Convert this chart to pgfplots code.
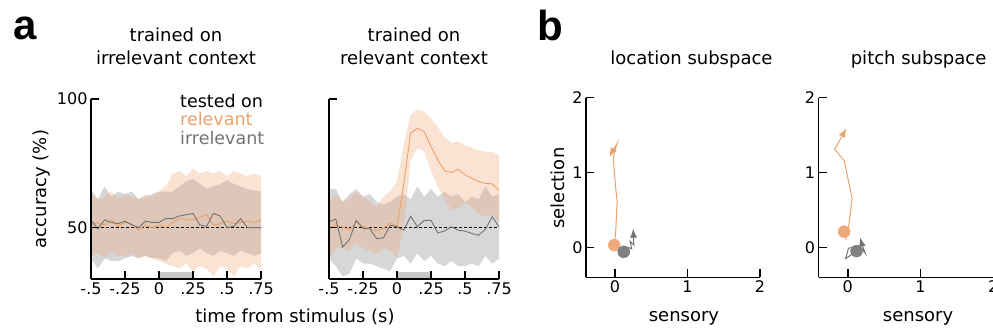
\documentclass[border=0pt]{standalone}
\usepackage{fontspec}
\setmainfont{DejaVu Sans}
\newfontfamily\labfont{Liberation Sans}
\usepackage{pgfplots}
\pgfplotsset{compat=1.18}
\usepackage{pgfplotstable}
\usepgfplotslibrary{fillbetween}
\usetikzlibrary{arrows.meta}

\definecolor{orl}{RGB}{236,160,105}
\definecolor{orf}{RGB}{240,168,118}
\definecolor{grl}{RGB}{115,115,115}
\definecolor{grf}{RGB}{150,150,150}
\definecolor{ordot}{RGB}{236,170,125}
\definecolor{grdot}{RGB}{128,128,128}

\pgfplotstableread{
t gm glo ghi om olo ohi
-0.50 53   38 65   51   39 63
-0.45 49.5 34 61   52   40 61
-0.40 53   38 66   51   38 62
-0.35 52   37 62   53   41 64
-0.30 51.5 37 64   50.5 39 61
-0.25 52.5 38 63   52   39 63
-0.20 51   39 64   51.5 40 62
-0.15 50   38 61   49   38 61
-0.10 52.5 39 62   51   39 63
-0.05 52   38 63   50   38 62
0.00  52   38 64   51   37 64
0.05  53.5 37 64   50   36 66
0.10  53.5 40 64   52   35 71
0.15  54.5 41 66   53.5 34 72
0.20  55   39 68   53   36 70
0.25  55.5 40 69   53   33 73
0.30  51   42 67   54   35 71
0.35  50.5 40 65   55   34 72
0.40  55.5 39 66   51   31 71
0.45  54.5 41 67   51.5 35 72
0.50  50   40 68.5 52.5 34 70
0.55  50.5 39 67   51.5 31 72
0.60  53.5 41 66   52   35 71
0.65  50   40 65   52.5 34 70
0.70  50   39 64.5 52   36 71
0.75  50   40 64   53   34 70
}\irrtab

\pgfplotstableread{
t gm glo ghi om olo ohi
-0.50 52.3 38 65 49.7 38   60
-0.45 53.3 35 65 51   42   63
-0.40 42.4 31 60 50.3 42   60
-0.35 45.3 32 63 49   41   61
-0.30 52.8 38 65 52.3 44   64
-0.25 49.6 36 62 50.3 42   62
-0.20 49.6 36 63 49.7 41   60
-0.15 45.7 35 60 48.7 40   58
-0.10 46   34 59 49.7 42   62
-0.05 50.9 33 60 51.9 41   64
0.00  50.3 38 62 50.3 38   68
0.05  49   39 63 67   50   82
0.10  54.4 36 61 86.7 76   94
0.15  50.3 40 66 88.6 81   96
0.20  52.8 37 62 87.3 79.5 95
0.25  52.8 39 65 81.5 72   92.5
0.30  47.9 36 62 76.3 66   89
0.35  48.7 35 64 72.1 61   85
0.40  50.3 37 62 71.4 57   83
0.45  49   35 63 72.7 57.5 83.5
0.50  48.6 35 60 70.5 59.5 82
0.55  47.7 36 62 69.2 58   81
0.60  47   35 61 67.9 55.5 80
0.65  49.3 39 66 67.2 54   79.5
0.70  54.2 36 62 67   55   79.5
0.75  50.3 38 63 64.4 52   78
}\reltab

\pgfplotsset{
  base/.style={
    scale only axis, axis lines=left,
    axis line style={-, line width=1.5pt},
    tick align=inside, major tick length=8pt,
    every tick/.style={black, line width=1.5pt},
    tick label style={font=\fontsize{16}{16}\selectfont},
    label style={font=\fontsize{18}{21}\selectfont},
    title style={font=\fontsize{18}{23}\selectfont, align=center},
    /pgf/number format/assume math mode=true,
    axis on top,
  },
  pa/.style={base, width=170pt, height=180pt,
    xmin=-0.5, xmax=0.75, ymin=30, ymax=100,
    xtick={-0.5,-0.25,0,0.25,0.5,0.75},
    xticklabels={-.5,-.25,0,.25,.5,.75},
    ytick={50,100},
    title style={at={(axis description cs:0.5,1)}, anchor=base, yshift=28pt},
  },
  pb/.style={base, height=179.6pt,
    xmin=-0.4, xmax=2, ymin=-0.4, ymax=2,
    xtick={0,1,2}, ytick={0,1,2},
    xticklabels={0,1,2}, yticklabels={0,1,2},
    xlabel=sensory,
  },
}

\begin{document}
\begin{tikzpicture}

% ---------- panel a, left
\begin{axis}[pa, at={(91pt,52pt)}, anchor=south west, clip=false,
  yticklabels={50,100},
  title={trained on\\irrelevant context},
  ylabel={accuracy (\%)},
  ylabel style={at={(axis description cs:-0.288,0.5)}, anchor=center},
  xlabel={time from stimulus (s)},
  xlabel style={at={(axis description cs:1.2,0)}, anchor=base, yshift=-44pt},
]
\addplot[name path=ghi, draw=none] table[x=t,y=ghi]{\irrtab};
\addplot[name path=glo, draw=none] table[x=t,y=glo]{\irrtab};
\addplot[grf, fill opacity=0.38, draw=none] fill between[of=ghi and glo];
\addplot[name path=ohi, draw=none] table[x=t,y=ohi]{\irrtab};
\addplot[name path=olo, draw=none] table[x=t,y=olo]{\irrtab};
\addplot[orf, fill opacity=0.32, draw=none] fill between[of=ohi and olo];
\addplot[draw=none, fill=black!22] coordinates {(0,32.8) (0.25,32.8)} \closedcycle;
\addplot[black, line width=1.2pt, dash pattern=on 3pt off 2pt] coordinates {(-0.5,50) (0.75,50)};
\addplot[orl, line width=0.9pt] table[x=t,y=om]{\irrtab};
\addplot[grl, line width=0.9pt] table[x=t,y=gm]{\irrtab};
\node[anchor=base west, font=\fontsize{17.5}{21}\selectfont, text=black] at (axis cs:0.13,96.5) {tested on};
\node[anchor=base west, font=\fontsize{17.5}{21}\selectfont, text=orl] at (axis cs:0.13,89.5) {relevant};
\node[anchor=base west, font=\fontsize{17.5}{21}\selectfont, text=grl] at (axis cs:0.13,82.2) {irrelevant};
\end{axis}

% ---------- panel a, right
\begin{axis}[pa, at={(329pt,52pt)}, anchor=south west,
  yticklabels={,},
  title={trained on\\relevant context},
]
\addplot[name path=ghi, draw=none] table[x=t,y=ghi]{\reltab};
\addplot[name path=glo, draw=none] table[x=t,y=glo]{\reltab};
\addplot[grf, fill opacity=0.38, draw=none] fill between[of=ghi and glo];
\addplot[name path=ohi, draw=none] table[x=t,y=ohi]{\reltab};
\addplot[name path=olo, draw=none] table[x=t,y=olo]{\reltab};
\addplot[orf, fill opacity=0.32, draw=none] fill between[of=ohi and olo];
\addplot[draw=none, fill=black!22] coordinates {(0,32.8) (0.25,32.8)} \closedcycle;
\addplot[black, line width=1.2pt, dash pattern=on 3pt off 2pt] coordinates {(-0.5,50) (0.75,50)};
\addplot[orl, line width=0.9pt] table[x=t,y=om]{\reltab};
\addplot[grl, line width=0.9pt] table[x=t,y=gm]{\reltab};
\end{axis}

% ---------- panel b, location
\begin{axis}[pb, at={(586pt,53.7pt)}, anchor=south west, width=174pt,
  title={location subspace},
  title style={at={(axis description cs:0.606,1)}, anchor=base, yshift=27pt},
  xlabel style={at={(axis description cs:0.563,0)}, anchor=base, yshift=-44pt},
  ylabel=selection,
  ylabel style={at={(axis description cs:-0.161,0.497)}, anchor=center},
]
\addplot[orl, line width=1pt, -{Latex[length=9pt,width=7pt]}] coordinates {
(-0.01,0.03) (0.01,0.21) (0.02,0.43) (0.03,0.61) (0.01,0.79) (-0.01,1.01) (-0.02,1.19) (-0.01,1.27) (0.03,1.39) (-0.08,1.21)};
\addplot[only marks, mark=*, mark size=6pt, ordot] coordinates {(-0.01,0.03)};
\addplot[grl, line width=1pt, -{Latex[length=9pt,width=7pt]}] coordinates {
(0.12,-0.06) (0.15,-0.11) (0.2,-0.08) (0.18,0.0) (0.23,-0.02) (0.21,0.08) (0.26,0.03) (0.25,0.25)};
\addplot[only marks, mark=*, mark size=6pt, grdot] coordinates {(0.12,-0.06)};
\end{axis}

% ---------- panel b, pitch
\begin{axis}[pb, at={(818.7pt,53.7pt)}, anchor=south west, width=174.6pt,
  title={pitch subspace},
  title style={at={(axis description cs:0.572,1)}, anchor=base, yshift=27pt},
  xlabel style={at={(axis description cs:0.569,0)}, anchor=base, yshift=-44pt},
]
\addplot[orl, line width=1pt, -{Latex[length=9pt,width=7pt]}] coordinates {
(-0.02,0.10) (-0.05,0.21) (0.01,0.27) (0.06,0.65) (-0.05,1.16) (-0.18,1.31) (-0.02,1.59)};
\addplot[only marks, mark=*, mark size=6pt, ordot] coordinates {(-0.05,0.21)};
\addplot[grl, line width=1pt, -{Latex[length=9pt,width=7pt]}] coordinates {
(0.12,-0.05) (-0.03,-0.15) (0.01,-0.01) (0.17,0.01) (0.24,-0.08) (0.19,0.05) (0.17,0.13)};
\addplot[only marks, mark=*, mark size=6pt, grdot] coordinates {(0.12,-0.05)};
\end{axis}

\node[anchor=base west, font=\labfont\bfseries\fontsize{42}{42}\selectfont] at (10pt,291pt) {a};
\node[anchor=base west, font=\labfont\bfseries\fontsize{42}{42}\selectfont] at (534pt,290pt) {b};
\pgfresetboundingbox
\useasboundingbox (0,0) rectangle (993pt,331pt);
\end{tikzpicture}
\end{document}
